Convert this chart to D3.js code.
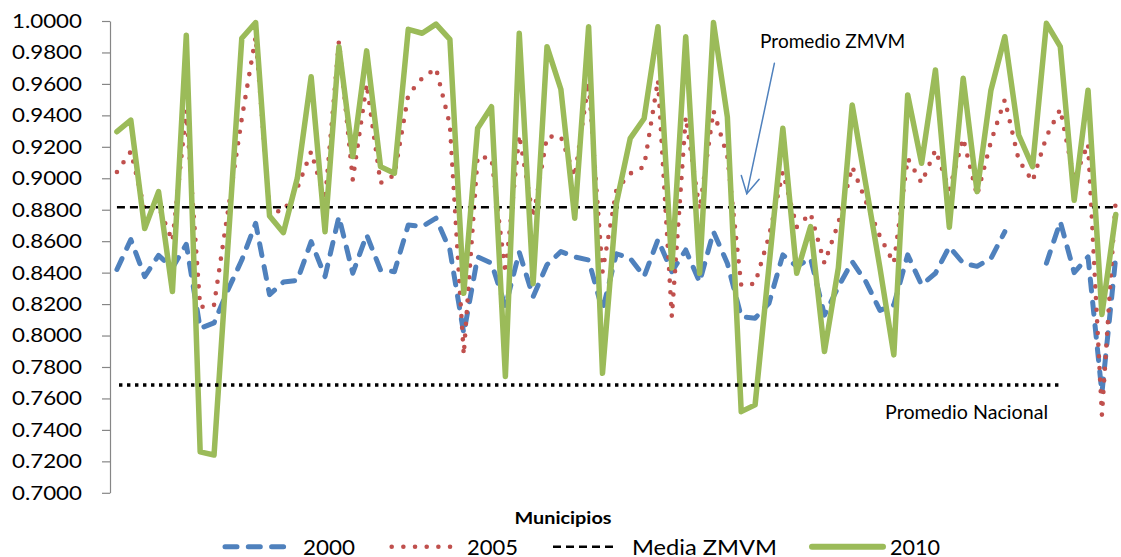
<!DOCTYPE html>
<html>
<head>
<meta charset="utf-8">
<script src="https://cdn.jsdelivr.net/npm/d3@7"></script>
<style>
  html, body { margin: 0; padding: 0; background: #ffffff; }
  svg { display: block; font-family: Lato, "Open Sans", "Liberation Sans", sans-serif; }
</style>
</head>
<body>
<svg id="chart" width="1121" height="557"></svg>
<script>
// Municipios de la ZMVM (eje de categorías sin etiquetas)
const municipios = d3.range(1, 74).map(n => "M" + n);

// Índice por municipio, 2000
const serie2000 = [
  0.842, 0.861, 0.8375, 0.851, 0.843, 0.858, 0.8046, 0.808, 0.829, 0.848,
  0.8714, 0.826, 0.834, 0.835, 0.8597, 0.8375, 0.8756, 0.8396, 0.864, 0.8417,
  0.8406, 0.8703, 0.8693, 0.8746, 0.8544, 0.8014, 0.850, 0.846, 0.8184, 0.853,
  0.8247, 0.845, 0.8534, 0.850, 0.848, 0.816, 0.852, 0.849, 0.8375, 0.861,
  0.8406, 0.8544, 0.834, 0.866, 0.846, 0.812, 0.811, 0.8205, 0.8513, 0.844,
  0.849, 0.813, 0.831, 0.847, 0.834, 0.816, 0.8195, 0.8513, 0.8322, 0.8396,
  0.8565, 0.846, 0.844, 0.849, 0.866, null, null, 0.846, 0.8724, 0.840,
  0.850, 0.7635, 0.850
];

// Índice por municipio, 2005
const serie2005 = [
  0.904, 0.917, 0.880, 0.882, 0.860, 0.943, 0.818, 0.8195, 0.879, 0.938,
  0.990, 0.879, 0.879, 0.8936, 0.917, 0.886, 0.987, 0.899, 0.960, 0.897,
  0.902, 0.953, 0.9636, 0.970, 0.934, 0.7877, 0.9138, 0.9127, 0.8396, 0.9275,
  0.875, 0.9265, 0.9265, 0.901, 0.9614, 0.8406, 0.8926, 0.903, 0.9074, 0.9625,
  0.812, 0.939, 0.880, 0.943, 0.914, 0.832, 0.833, 0.863, 0.904, 0.869,
  0.8777, 0.846, 0.8714, 0.9074, 0.885, 0.863, 0.846, 0.9127, 0.897, 0.918,
  0.8926, 0.9254, 0.889, 0.9233, 0.950, 0.9116, 0.898, 0.9265, 0.944, 0.899,
  0.922, 0.7495, 0.887
];

// Índice por municipio, 2010
const serie2010 = [
  0.9296, 0.937, 0.868, 0.8915, 0.828, 0.991, 0.726, 0.724, 0.857, 0.989,
  0.999, 0.876, 0.8654, 0.900, 0.9646, 0.866, 0.9837, 0.9138, 0.981, 0.9074,
  0.9032, 0.9947, 0.9922, 0.998, 0.9883, 0.8269, 0.9318, 0.9455, 0.774, 0.9922,
  0.833, 0.9837, 0.9566, 0.8746, 0.9964, 0.776, 0.884, 0.9254, 0.938, 0.9964,
  0.843, 0.990, 0.8396, 0.999, 0.939, 0.7516, 0.7559, 0.844, 0.9318, 0.8396,
  0.8693, 0.7898, 0.843, 0.9466, 0.895, 0.843, 0.7877, 0.953, 0.9095, 0.9689,
  0.8688, 0.9636, 0.8915, 0.956, 0.990, 0.9275, 0.9074, 0.9985, 0.9837, 0.886,
  0.956, 0.8134, 0.877
];

// Promedios de referencia
const mediaZMVM = 0.8815;
const promedioNacional = 0.7685;

// Marcas del eje vertical
const yTicks = [0.70, 0.72, 0.74, 0.76, 0.78, 0.80, 0.82, 0.84, 0.86, 0.88,
                0.90, 0.92, 0.94, 0.96, 0.98, 1.00];

const legendLabels = ["2000", "2005", "Media ZMVM", "2010"];

// ---------------------------------------------------------------
const svg = d3.select("#chart");
const plot = { left: 110, top: 21, bottom: 492.8, step: 13.873 };

const x = d3.scaleBand()
  .domain(municipios)
  .range([plot.left, plot.left + municipios.length * plot.step])
  .padding(0);

const y = d3.scaleLinear()
  .domain([d3.min(yTicks), d3.max(yTicks)])
  .range([plot.bottom, plot.top]);

const cx = i => x(municipios[0]) + x.bandwidth() / 2 + i * x.step();

// Eje vertical
const yAxis = d3.axisLeft(y)
  .tickValues(yTicks)
  .tickFormat(d3.format(".4f"))
  .tickSize(8)
  .tickSizeOuter(0)
  .tickPadding(20);

const gy = svg.append("g")
  .attr("transform", `translate(${plot.left},0)`)
  .call(yAxis);
gy.select(".domain").attr("stroke", "#868686").attr("stroke-width", 1.2);
gy.selectAll(".tick line").attr("stroke", "#868686").attr("stroke-width", 1.2);
gy.selectAll(".tick text")
  .attr("fill", "#000")
  .style("font-family", "Lato, 'Open Sans', sans-serif")
  .style("font-size", "20px")
  .attr("textLength", 70)
  .attr("lengthAdjust", "spacingAndGlyphs");

// Estilos de cada serie
const styles = {
  s2000: { stroke: "#4F81BD", width: 5, dash: "12 11.3", cap: "round" },
  s2005: { stroke: "#C0504D", width: 4.6, dash: "0 11.67", cap: "round" },
  media: { stroke: "#000000", width: 2.5, dash: "8 5", cap: "butt" },
  s2010: { stroke: "#9BBB59", width: 5.5, dash: null, cap: "round" }
};

const line = d3.line()
  .defined(d => d != null)
  .x((d, i) => cx(i))
  .y(d => y(d));

function drawSeries(values, st) {
  svg.append("path")
    .datum(values)
    .attr("fill", "none")
    .attr("stroke", st.stroke)
    .attr("stroke-width", st.width)
    .attr("stroke-dasharray", st.dash)
    .attr("stroke-linecap", st.cap)
    .attr("stroke-linejoin", "round")
    .attr("d", line);
}

drawSeries(serie2000, styles.s2000);
drawSeries(serie2005, styles.s2005);
drawSeries(municipios.map(() => mediaZMVM), styles.media);
drawSeries(serie2010, styles.s2010);

// Línea del promedio nacional (punteada)
svg.append("line")
  .attr("x1", cx(0.15)).attr("x2", cx(68.1))
  .attr("y1", y(promedioNacional)).attr("y2", y(promedioNacional))
  .attr("stroke", "#000")
  .attr("stroke-width", 3.4)
  .attr("stroke-dasharray", "3.4 4.6");

svg.append("text")
  .attr("x", cx(55.37)).attr("y", y(0.7470))
  .style("font-size", "20px")
  .attr("textLength", 163)
  .attr("lengthAdjust", "spacingAndGlyphs")
  .attr("fill", "#000")
  .text("Promedio Nacional");

// Anotación del promedio ZMVM con flecha
svg.append("text")
  .attr("x", cx(46.36)).attr("y", y(0.9828))
  .style("font-size", "20px")
  .attr("textLength", 145)
  .attr("lengthAdjust", "spacingAndGlyphs")
  .attr("fill", "#000")
  .text("Promedio ZMVM");

const a0 = [cx(47.39), y(0.9731)];
const a1 = [cx(45.40), y(0.8902)];
const ang = Math.atan2(a1[1] - a0[1], a1[0] - a0[0]);
const headLen = 19, headAng = 0.5;
const arrow = svg.append("g")
  .attr("stroke", "#4F81BD").attr("stroke-width", 1.5).attr("fill", "none")
  .attr("stroke-linecap", "round");
arrow.append("line")
  .attr("x1", a0[0]).attr("y1", a0[1]).attr("x2", a1[0]).attr("y2", a1[1]);
arrow.append("path")
  .attr("d", d3.line()([
    [a1[0] - headLen * Math.cos(ang - headAng), a1[1] - headLen * Math.sin(ang - headAng)],
    a1,
    [a1[0] - headLen * Math.cos(ang + headAng), a1[1] - headLen * Math.sin(ang + headAng)]
  ]));

// Título del eje horizontal
svg.append("text")
  .attr("x", 563).attr("y", 524)
  .attr("text-anchor", "middle")
  .style("font-size", "17px")
  .style("font-weight", "bold")
  .attr("textLength", 97)
  .attr("lengthAdjust", "spacingAndGlyphs")
  .attr("fill", "#000")
  .text("Municipios");

// Leyenda
const legendItems = [
  { label: legendLabels[0], st: styles.s2000, x0: 225, x1: 288, tx: 303, tw: 52 },
  { label: legendLabels[1], st: styles.s2005, x0: 391.7, x1: 452, tx: 467, tw: 51 },
  { label: legendLabels[2], st: styles.media, x0: 553, x1: 618, tx: 632, tw: 145 },
  { label: legendLabels[3], st: styles.s2010, x0: 812, x1: 883, tx: 890, tw: 50 }
];
const legY = 546.7;
const lg = svg.append("g");
legendItems.forEach(it => {
  lg.append("line")
    .attr("x1", it.x0).attr("x2", it.x1)
    .attr("y1", legY).attr("y2", legY)
    .attr("stroke", it.st.stroke)
    .attr("stroke-width", it.st === styles.s2010 ? 6 : it.st.width)
    .attr("stroke-dasharray", it.st.dash)
    .attr("stroke-linecap", it.st.cap);
  lg.append("text")
    .attr("x", it.tx).attr("y", 554.5)
    .style("font-size", "21px")
    .attr("textLength", it.tw)
    .attr("lengthAdjust", "spacingAndGlyphs")
    .attr("fill", "#000")
    .text(it.label);
});
</script>
</body>
</html>
